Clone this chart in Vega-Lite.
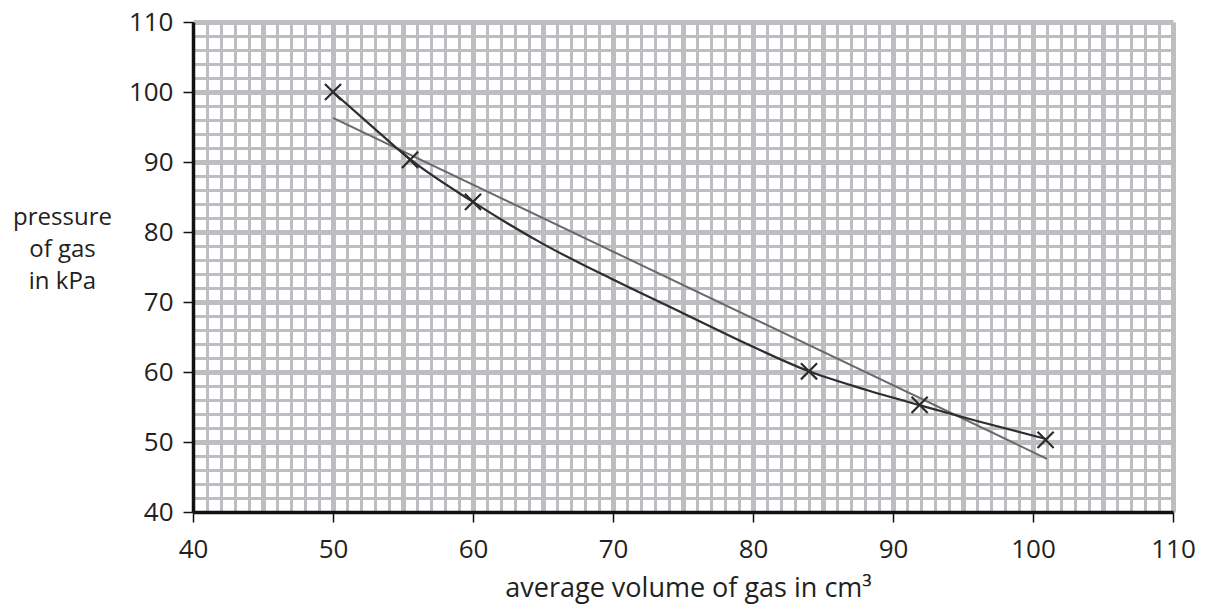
{
  "$schema": "https://vega.github.io/schema/vega-lite/v6.json",
  "width": 980,
  "height": 490,
  "autosize": {"type": "none"},
  "padding": {"left": 193, "top": 22, "right": 34, "bottom": 95},
  "background": "white",
  "config": {"view": {"stroke": null}},
  "datasets": {
    "fit": [
      {"volume": 50, "pressure": 96.3},
      {"volume": 101, "pressure": 47.6}
    ],
    "curve": [
      {"volume": 50, "pressure": 100},
      {"volume": 52.5, "pressure": 95.6},
      {"volume": 55.5, "pressure": 90.4},
      {"volume": 60, "pressure": 84.3},
      {"volume": 65, "pressure": 78.3},
      {"volume": 70, "pressure": 73.2},
      {"volume": 75, "pressure": 68.4},
      {"volume": 80, "pressure": 63.6},
      {"volume": 84, "pressure": 60.1},
      {"volume": 88, "pressure": 57.5},
      {"volume": 92, "pressure": 55.2},
      {"volume": 96, "pressure": 53.0},
      {"volume": 101, "pressure": 50.4}
    ],
    "points": [
      {"volume": 50, "pressure": 100},
      {"volume": 55.5, "pressure": 90.3},
      {"volume": 60, "pressure": 84.3},
      {"volume": 84, "pressure": 60.1},
      {"volume": 91.9, "pressure": 55.3},
      {"volume": 100.9, "pressure": 50.3}
    ]
  },
  "layer": [
    {
      "data": {"name": "fit"},
      "mark": {"type": "line", "color": "#6a6a6a", "strokeWidth": 2},
      "encoding": {
        "x": {
          "field": "volume", "type": "quantitative",
          "scale": {"domain": [40, 110], "nice": false, "zero": false},
          "axis": {
            "title": "average volume of gas in cm³",
            "titleFont": "Open Sans", "titleFontSize": 27, "titleFontWeight": "normal", "titleColor": "#231f20",
            "titleBaseline": "alphabetic", "titleAlign": "center", "titleX": 495, "titleY": 84,
            "tickCount": 200, "format": "d",
            "values": [40,41,42,43,44,45,46,47,48,49,50,51,52,53,54,55,56,57,58,59,60,61,62,63,64,65,66,67,68,69,70,71,72,73,74,75,76,77,78,79,80,81,82,83,84,85,86,87,88,89,90,91,92,93,94,95,96,97,98,99,100,101,102,103,104,105,106,107,108,109,110],
            "labelExpr": "datum.value % 10 === 0 ? datum.label : ''",
            "labelFont": "Open Sans", "labelFontSize": 26, "labelColor": "#231f20",
            "labelBaseline": "alphabetic", "labelPadding": 35, "labelFlush": false, "labelOverlap": false,
            "domainColor": "#111111", "domainWidth": 3.5,
            "tickColor": "#111111", "tickSize": 10, "tickWidth": 1.5,
            "tickOpacity": {"condition": {"test": "datum.value % 10 === 0", "value": 1}, "value": 0},
            "grid": true,
            "gridColor": "#bdbec2",
            "gridOpacity": {"condition": {"test": "datum.value === 40", "value": 0}, "value": 1},
            "gridWidth": {"condition": {"test": "datum.value % 5 === 0", "value": 5}, "value": 3}
          }
        },
        "y": {
          "field": "pressure", "type": "quantitative",
          "scale": {"domain": [40, 110], "nice": false, "zero": false},
          "axis": {
            "title": ["pressure", "of gas", "in kPa"],
            "titleFont": "Open Sans", "titleFontSize": 24, "titleFontWeight": "normal", "titleColor": "#231f20",
            "titleAngle": 0, "titleAlign": "center", "titleBaseline": "alphabetic",
            "titleX": -131, "titleY": 202, "titleLineHeight": 32,
            "tickCount": 200, "format": "d",
            "values": [40,42,44,46,48,50,52,54,56,58,60,62,64,66,68,70,72,74,76,78,80,82,84,86,88,90,92,94,96,98,100,102,104,106,108,110],
            "labelExpr": "datum.value % 10 === 0 ? datum.label : ''",
            "labelFont": "Open Sans", "labelFontSize": 26, "labelColor": "#231f20",
            "labelBaseline": "middle", "labelPadding": 10, "labelFlush": false, "labelOverlap": false,
            "domainColor": "#111111", "domainWidth": 3.5,
            "tickColor": "#111111", "tickSize": 10, "tickWidth": 1.5,
            "tickOpacity": {"condition": {"test": "datum.value % 10 === 0", "value": 1}, "value": 0},
            "grid": true,
            "gridColor": "#bdbec2",
            "gridOpacity": {"condition": {"test": "datum.value === 40", "value": 0}, "value": 1},
            "gridWidth": {"condition": {"test": "datum.value % 10 === 0", "value": 5}, "value": 3}
          }
        }
      }
    },
    {
      "data": {"name": "curve"},
      "mark": {"type": "line", "color": "#2e2e2e", "strokeWidth": 2.2, "interpolate": "monotone"},
      "encoding": {
        "x": {"field": "volume", "type": "quantitative"},
        "y": {"field": "pressure", "type": "quantitative"}
      }
    },
    {
      "data": {"name": "points"},
      "mark": {"type": "point", "shape": "M-1,-1L1,1M1,-1L-1,1", "filled": false, "stroke": "#2b2b2b", "strokeWidth": 2.2, "size": 260, "opacity": 1},
      "encoding": {
        "x": {"field": "volume", "type": "quantitative"},
        "y": {"field": "pressure", "type": "quantitative"}
      }
    }
  ]
}
